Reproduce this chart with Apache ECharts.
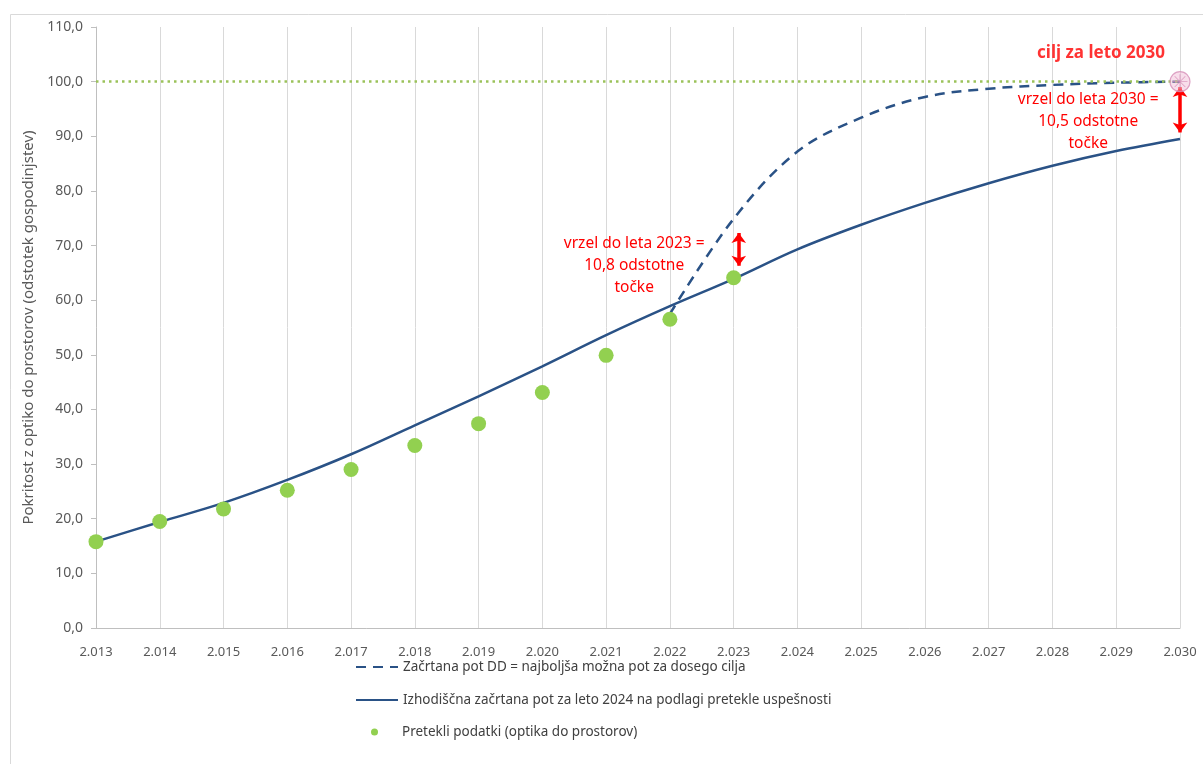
<!DOCTYPE html>
<html>
<head>
<meta charset="utf-8">
<script src="https://cdn.jsdelivr.net/npm/echarts@6/dist/echarts.min.js"></script>
<style>
html,body{margin:0;padding:0;background:#fff;}
#chart{width:1203px;height:764px;}
</style>
</head>
<body>
<div id="chart"></div>
<script>
// Years on the horizontal axis
var years = [2013, 2014, 2015, 2016, 2017, 2018, 2019, 2020, 2021, 2022, 2023, 2024, 2025, 2026, 2027, 2028, 2029, 2030];
// Past data: fibre-to-the-premises coverage (% of households), 2013–2023
var historyValues = [15.8, 19.5, 21.8, 25.2, 29.0, 33.4, 37.4, 43.1, 49.9, 56.5, 64.1];
// Baseline trajectory from past performance, 2013–2030
var baselineValues = [15.8, 19.4, 22.9, 27.1, 31.8, 37.1, 42.4, 47.9, 53.6, 58.9, 63.9, 69.3, 73.8, 77.8, 81.4, 84.6, 87.3, 89.5];
// Digital Decade trajectory, 2022–2030
var pathYears = [2022, 2023, 2024, 2025, 2026, 2027, 2028, 2029, 2030];
var pathValues = [57.5, 74.9, 87.2, 93.4, 97.2, 98.7, 99.4, 99.8, 100.0];
// Target and gaps
var targetYear = 2030, targetValue = 100;
var gap2023 = 10.8, gap2030 = 10.5;

var nameDD = 'Začrtana pot DD = najboljša možna pot za dosego cilja';
var nameBase = 'Izhodiščna začrtana pot za leto 2024 na podlagi pretekle uspešnosti';
var nameHist = 'Pretekli podatki (optika do prostorov)';

function pairs(xs, ys) { return ys.map(function (v, i) { return [xs[i], v]; }); }
var fmtNum = function (v) { return v.toFixed(1).replace('.', ','); };

var red = '#ff0000';
var navy = '#2a5286';
var green = '#92d050';
var font = 'Noto Sans';

var chart = echarts.init(document.getElementById('chart'));
var legendBase = {
  orient: 'vertical', left: 350, itemWidth: 42, itemHeight: 10,
  textStyle: { fontFamily: font, fontSize: 13.5, color: '#404040' },
  itemStyle: { opacity: 0 },
  selectedMode: false
};
chart.setOption({
  animation: false,
  textStyle: { fontFamily: font },
  graphic: [{
    type: 'rect', left: 8, top: 12, silent: true, z: -1,
    shape: { width: 1300, height: 800 },
    style: { fill: 'none', stroke: '#d9d9d9', lineWidth: 1 }
  }],
  legend: [
    Object.assign({}, legendBase, { top: 655, data: [nameDD] }),
    Object.assign({}, legendBase, { top: 688, data: [nameBase] }),
    Object.assign({}, legendBase, {
      top: 720, left: 366, itemWidth: 45, itemHeight: 7, itemStyle: {},
      data: [{ name: nameHist, icon: 'circle' }]
    })
  ],
  grid: { left: 96, right: 23, top: 27, bottom: 136 },
  xAxis: {
    type: 'value', min: 2013, max: 2030, interval: 1,
    axisLine: { lineStyle: { color: '#bfbfbf' } },
    axisTick: { show: false },
    splitLine: { show: true, lineStyle: { color: '#d9d9d9' } },
    axisLabel: {
      color: '#595959', fontSize: 13, margin: 18,
      formatter: function (v) { return '2.' + String(Math.round(v)).slice(1); }
    }
  },
  yAxis: {
    type: 'value', min: 0, max: 110, interval: 10,
    name: 'Pokritost z optiko do prostorov (odstotek gospodinjstev)',
    nameLocation: 'middle', nameGap: 57, nameRotate: 90,
    nameTextStyle: { color: '#595959', fontSize: 15, fontFamily: font },
    axisLine: { show: true, lineStyle: { color: '#bfbfbf' } },
    axisTick: { show: true, length: 5, lineStyle: { color: '#bfbfbf' } },
    splitLine: { show: false },
    axisLabel: { color: '#595959', fontSize: 14, margin: 13, formatter: fmtNum }
  },
  series: [
    {
      name: nameDD, type: 'line', smooth: 0.35, showSymbol: false, symbol: 'none',
      data: pairs(pathYears, pathValues),
      lineStyle: { color: navy, width: 2.5, type: [10, 7] }, itemStyle: { color: navy }, z: 3,
      markLine: {
        silent: true, symbol: 'none', label: { show: false },
        lineStyle: { color: '#9bc25a', width: 2.5, type: [2.5, 4] },
        data: [[{ coord: [2013, targetValue] }, { coord: [targetYear, targetValue] }]]
      }
    },
    {
      name: nameBase, type: 'line', smooth: 0.35, showSymbol: false, symbol: 'none',
      data: pairs(years, baselineValues),
      lineStyle: { color: navy, width: 2.5 }, itemStyle: { color: navy }, z: 4,
      markLine: {
        silent: true, symbol: ['arrow', 'arrow'], symbolSize: [11, 10], label: { show: false },
        lineStyle: { color: red, width: 3.5, type: 'solid' },
        data: [
          [{ coord: [2023.08, baselineValues[10] + 2.4] }, { coord: [2023.08, baselineValues[10] + gap2023 - 2.4] }],
          [{ coord: [targetYear, targetValue - 1.0] }, { coord: [targetYear, targetValue - gap2030 + 1.2] }]
        ]
      },
      markPoint: {
        silent: true, symbol: 'rect', symbolSize: 1, itemStyle: { color: 'rgba(0,0,0,0)' },
        label: {
          show: true, position: 'inside', color: red, fontSize: 15.5, lineHeight: 22,
          align: 'center', verticalAlign: 'middle', fontFamily: font
        },
        data: [
          { coord: [2021.44, 66.3], value: 0, label: { formatter: 'vrzel do leta 2023 =\n' + fmtNum(gap2023) + ' odstotne\ntočke' } },
          { coord: [2028.56, 92.6], value: 0, label: { formatter: 'vrzel do leta 2030 =\n' + fmtNum(gap2030) + ' odstotne\ntočke' } }
        ]
      }
    },
    {
      name: nameHist, type: 'scatter', symbol: 'circle', symbolSize: 15,
      data: pairs(years, historyValues),
      itemStyle: { color: green, opacity: 1 }, z: 5
    },
    {
      name: 'cilj', type: 'scatter', symbol: 'circle', symbolSize: 20,
      data: [[targetYear, targetValue]],
      itemStyle: { color: 'rgba(240,180,210,0.55)', borderColor: '#d68fb8', borderWidth: 1.2 }, z: 6,
      label: {
        show: true, position: 'top', distance: 6, offset: [-79, -3],
        formatter: 'cilj za leto 2030', color: red, fontSize: 17, fontWeight: 'bold', fontFamily: font
      }
    },
    {
      name: 'cilj-križ', type: 'scatter', symbolSize: 15, silent: true,
      symbol: 'path://M9.4,0H10.6V20H9.4Z M0,9.4H20V10.6H0Z M2.5,3.3L3.3,2.5L17.5,16.7L16.7,17.5Z M16.7,2.5L17.5,3.3L3.3,17.5L2.5,16.7Z',
      data: [[targetYear, targetValue]],
      itemStyle: { color: '#d68fb8' }, z: 7
    }
  ]
});
</script>
</body>
</html>
